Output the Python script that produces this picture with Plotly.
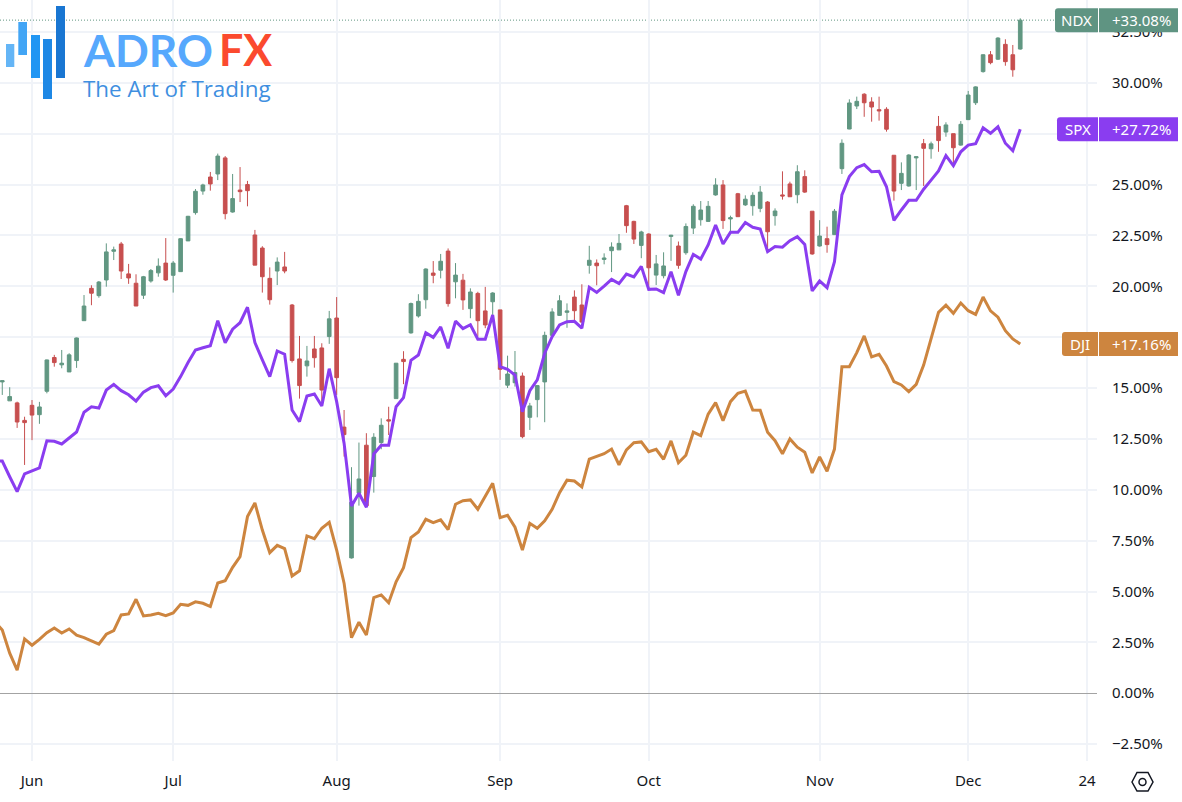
"""NDX / SPX / DJI percent-change comparison chart with the AdroFX logo."""
import plotly.graph_objects as go

# ── Data ──────────────────────────────────────────────────────────────────────
# trading-day index, 0 is the first June session
bars = list(range(-5, 134))

ndx_open = [
    15.10, 15.30, 14.37, 14.27, 13.41, 14.15, 13.69, 14.84, 16.50, 16.14,
    15.79, 16.35, 18.31, 19.90, 19.54, 20.31, 21.72, 22.08, 20.61, 20.15,
    19.56, 20.26, 20.66, 21.14, 20.54, 20.72, 22.23, 23.62, 24.68, 25.37,
    25.52, 26.31, 23.65, 24.73, 25.00, 22.52, 21.88, 20.39, 20.75, 20.95,
    19.08, 16.43, 16.09, 16.92, 16.97, 17.53, 18.44, 13.08, 6.65, 9.83,
    12.19, 10.65, 12.32, 13.44, 14.48, 16.41, 17.71, 18.54, 19.34, 20.65,
    20.79, 21.73, 20.22, 20.30, 18.90, 19.65, 18.79, 19.24, 18.84, 15.14,
    15.26, 15.59, 13.56, 14.43, 15.30, 17.59, 18.57, 18.72, 19.47, 19.08,
    21.03, 21.14, 21.32, 21.75, 21.79, 23.96, 23.19, 22.01, 22.57, 20.55,
    20.52, 22.45, 21.98, 21.65, 22.86, 23.27, 23.19, 24.49, 24.98, 23.31,
    24.55, 24.00, 23.96, 23.83, 24.14, 23.47, 24.49, 25.03, 24.50, 25.39,
    23.69, 21.98, 22.34, 22.54, 25.78, 27.73, 28.86, 29.44, 29.06, 28.68,
    28.70, 26.44, 25.06, 24.93, 26.31, 27.01, 26.76, 27.86, 27.58, 27.50,
    26.94, 28.19, 29.02, 30.55, 31.38, 31.16, 31.89, 31.38, 31.66,
]
ndx_high = [
    15.60, 15.37, 15.04, 14.33, 13.59, 14.41, 14.32, 16.40, 16.63, 16.87,
    16.71, 17.48, 19.57, 20.05, 20.26, 22.11, 21.95, 22.18, 21.10, 20.59,
    20.51, 20.85, 21.37, 22.37, 21.24, 22.36, 23.46, 24.78, 25.04, 25.62,
    26.52, 26.40, 25.52, 25.86, 25.18, 22.77, 21.97, 20.93, 21.42, 21.69,
    19.13, 17.56, 17.07, 17.56, 17.20, 18.79, 19.47, 13.92, 11.11, 12.32,
    12.78, 12.78, 13.51, 14.08, 16.22, 16.81, 19.20, 19.61, 20.88, 21.24,
    21.59, 21.86, 21.14, 20.61, 19.90, 19.73, 19.97, 19.71, 18.84, 16.59,
    16.82, 15.76, 14.27, 15.15, 17.77, 18.92, 19.56, 19.16, 19.80, 20.10,
    21.99, 21.32, 21.62, 22.16, 22.57, 24.00, 23.22, 22.73, 22.60, 21.54,
    21.67, 22.53, 22.20, 23.09, 24.03, 24.19, 24.19, 25.31, 25.22, 23.47,
    24.59, 24.47, 24.62, 24.93, 24.19, 23.83, 25.65, 25.14, 25.95, 25.70,
    23.69, 23.25, 22.93, 23.80, 27.22, 29.19, 29.32, 29.49, 29.29, 29.32,
    28.80, 26.45, 26.09, 26.49, 26.37, 27.24, 27.11, 28.37, 28.06, 27.50,
    28.12, 29.60, 29.83, 31.40, 31.56, 32.24, 32.14, 31.86, 33.17,
]
ndx_low = [
    14.90, 14.66, 14.37, 13.04, 11.22, 12.44, 13.24, 14.74, 16.05, 15.97,
    15.79, 15.99, 18.31, 19.07, 19.44, 19.98, 21.29, 20.36, 20.12, 19.03,
    19.38, 20.18, 20.47, 20.26, 19.69, 20.72, 22.23, 23.52, 24.50, 24.70,
    25.22, 23.29, 23.62, 24.14, 23.93, 21.04, 19.69, 19.10, 20.06, 20.64,
    16.25, 14.48, 15.56, 16.00, 14.33, 17.17, 14.66, 11.63, 6.62, 9.22,
    9.16, 9.86, 11.99, 12.69, 14.48, 15.19, 17.67, 18.46, 18.90, 20.15,
    20.39, 19.00, 19.41, 18.84, 18.43, 17.53, 17.94, 18.59, 15.40, 15.00,
    15.07, 12.53, 12.94, 13.56, 13.32, 17.53, 18.54, 17.96, 18.26, 18.22,
    20.62, 20.05, 21.08, 20.70, 21.79, 22.63, 22.08, 21.38, 19.90, 20.06,
    20.39, 21.25, 20.86, 21.55, 22.57, 22.98, 23.16, 24.45, 22.82, 22.63,
    23.41, 23.95, 23.47, 23.64, 21.79, 22.98, 24.26, 24.40, 24.08, 24.59,
    21.55, 21.95, 21.65, 22.52, 25.52, 27.72, 28.71, 28.33, 28.09, 28.14,
    27.60, 24.21, 24.73, 24.90, 24.73, 24.93, 26.27, 26.61, 27.35, 26.00,
    26.91, 28.17, 28.91, 30.50, 30.91, 31.12, 30.84, 30.30, 31.63,
]
ndx_close = [
    15.30, 15.36, 14.58, 13.33, 13.30, 13.67, 14.07, 16.38, 16.25, 16.22,
    16.63, 17.46, 19.03, 19.66, 20.21, 21.69, 21.79, 20.75, 20.41, 19.03,
    20.47, 20.77, 20.99, 20.31, 21.14, 22.34, 23.44, 24.67, 24.98, 25.03,
    26.40, 23.57, 24.31, 24.65, 24.70, 21.04, 20.47, 19.34, 21.19, 20.75,
    16.35, 15.12, 16.33, 16.49, 14.90, 18.40, 15.51, 12.71, 9.39, 10.53,
    9.21, 12.58, 13.17, 13.38, 16.22, 16.30, 19.15, 19.26, 20.85, 20.54,
    21.23, 19.15, 20.55, 19.33, 19.72, 18.31, 18.10, 19.67, 15.92, 15.69,
    15.76, 12.61, 14.12, 15.12, 17.59, 18.74, 19.29, 18.79, 18.80, 18.24,
    21.28, 21.01, 21.39, 21.93, 22.11, 22.98, 22.32, 22.67, 20.91, 21.10,
    21.00, 22.51, 21.03, 22.94, 23.93, 23.75, 23.93, 24.98, 23.23, 23.37,
    23.42, 24.28, 24.47, 24.63, 22.68, 23.70, 24.44, 24.40, 25.63, 24.63,
    21.59, 22.47, 22.05, 23.69, 27.03, 29.01, 29.09, 29.02, 28.81, 28.62,
    27.72, 24.68, 25.55, 26.45, 26.37, 26.78, 27.00, 27.16, 27.93, 26.81,
    27.96, 29.40, 29.80, 31.38, 30.99, 32.20, 31.04, 30.64, 33.08,
]
spx_pct = [
    11.41, 11.41, 10.64, 9.91, 10.78, 10.92, 11.07, 12.41, 12.38, 12.25,
    12.56, 12.84, 13.81, 14.08, 14.02, 14.90, 15.18, 14.87, 14.67, 14.36,
    14.80, 15.02, 15.11, 14.62, 14.95, 15.56, 16.25, 16.87, 16.98, 17.08,
    18.31, 17.23, 17.89, 18.21, 18.97, 17.23, 16.38, 15.56, 16.82, 16.66,
    13.92, 13.35, 14.61, 14.71, 14.12, 15.95, 14.33, 12.29, 9.20, 9.83,
    9.14, 11.76, 12.19, 12.19, 14.08, 14.53, 16.36, 16.62, 17.72, 17.49,
    18.00, 16.95, 18.29, 17.92, 18.11, 17.40, 17.40, 18.59, 16.05, 15.92,
    15.64, 13.84, 14.87, 15.40, 16.71, 17.52, 18.10, 18.26, 18.28, 17.94,
    19.95, 19.70, 20.01, 20.34, 20.13, 20.60, 20.46, 20.98, 19.85, 19.87,
    19.69, 20.72, 19.56, 20.72, 21.57, 21.34, 22.03, 23.01, 22.08, 22.65,
    22.65, 23.13, 22.90, 22.82, 21.70, 21.95, 21.92, 22.24, 22.44, 22.06,
    19.77, 20.26, 19.93, 21.21, 24.49, 25.39, 25.83, 25.98, 25.63, 25.65,
    24.89, 23.24, 23.75, 24.23, 24.23, 24.77, 25.22, 25.67, 26.42, 25.93,
    26.61, 26.94, 27.01, 27.79, 27.52, 27.84, 27.03, 26.66, 27.72,
]
dji_pct = [
    3.50, 3.11, 1.97, 1.14, 2.67, 2.36, 2.65, 2.98, 3.21, 2.96,
    3.16, 2.85, 2.73, 2.57, 2.41, 2.90, 3.08, 3.85, 3.90, 4.62,
    3.80, 3.85, 3.93, 3.81, 3.95, 4.37, 4.32, 4.49, 4.42, 4.26,
    5.42, 5.53, 6.19, 6.71, 8.68, 9.35, 8.02, 6.91, 7.27, 7.11,
    5.76, 6.02, 7.73, 7.60, 8.11, 8.40, 7.04, 5.41, 2.73, 3.49,
    2.86, 4.70, 4.83, 4.45, 5.48, 6.17, 7.65, 7.93, 8.55, 8.38,
    8.52, 8.04, 9.29, 9.46, 9.50, 9.04, 9.66, 10.32, 8.63, 8.75,
    8.16, 7.04, 8.35, 8.11, 8.47, 9.04, 9.86, 10.47, 10.43, 10.14,
    11.51, 11.63, 11.77, 12.00, 11.23, 11.96, 12.31, 12.35, 11.87, 11.99,
    11.50, 12.40, 11.33, 11.70, 12.83, 12.66, 13.72, 14.28, 13.40, 14.33,
    14.74, 14.85, 13.92, 13.91, 12.83, 12.41, 11.77, 12.50, 12.09, 11.84,
    10.83, 11.61, 10.91, 12.00, 16.05, 16.05, 16.74, 17.56, 16.53, 16.66,
    16.08, 15.31, 15.15, 14.82, 15.18, 16.13, 17.44, 18.72, 19.07, 18.67,
    19.18, 18.80, 18.62, 19.47, 18.79, 18.48, 17.82, 17.41, 17.16,
]

x_tick_vals = [0, 19, 41, 63, 83, 106, 126, 142]
x_tick_text = ["Jun", "Jul", "Aug", "Sep", "Oct", "Nov", "Dec", "24"]
y_tick_vals = [-2.5, 0, 2.5, 5, 7.5, 10, 12.5, 15, 17.5, 20, 22.5, 25, 27.5, 30, 32.5]
# 17.50% and 27.50% sit fully behind the DJI and SPX tags, so they stay blank
y_tick_text = [
    "−2.50%", "0.00%", "2.50%", "5.00%", "7.50%", "10.00%", "12.50%", "15.00%",
    "", "20.00%", "22.50%", "25.00%", "", "30.00%", "32.50%",
]

# last value tags: name, value text, value, colour, width of the name box
tag_names = ["NDX", "SPX", "DJI"]
tag_texts = ["+33.08%", "+27.72%", "+17.16%"]
tag_values = [ndx_close[-1], spx_pct[-1], dji_pct[-1]]
tag_colors = ["#5f9482", "#8a3df0", "#cd853f"]
tag_widths = [42, 40, 35]

GREEN = "#619782"
RED = "#c74f4f"
GRID = "#f0f3f8"
TEXT = "#131722"
FONT = "Noto Sans"

# ── Page geometry ─────────────────────────────────────────────────────────────
W, H = 1182, 802
PLOT_R = 1097   # right edge of the pane
PLOT_B = 761    # bottom edge of the pane


def px(x):
    return x / PLOT_R


def py(y):
    return (PLOT_B - y) / PLOT_B


def box_path(left, right, half, radius_left):
    r = radius_left
    return (
        f"M {left + r} {-half} L {right} {-half} L {right} {half} L {left + r} {half} "
        f"Q {left} {half} {left} {half - r} L {left} {-half + r} "
        f"Q {left} {-half} {left + r} {-half} Z"
    )


shapes = []
annotations = []

# dotted price line for the candles
shapes.append(dict(
    type="line", xref="paper", yref="y", x0=0, x1=1, y0=ndx_close[-1], y1=ndx_close[-1],
    line=dict(color=GREEN, width=1, dash="1px,2px"), layer="below",
))

# ── Last value tags ───────────────────────────────────────────────────────────
for name, txt, val, col, width in zip(tag_names, tag_texts, tag_values, tag_colors, tag_widths):
    shapes.append(dict(
        type="path", xref="paper", yref="y", xsizemode="pixel", ysizemode="pixel",
        xanchor=1, yanchor=val, path=box_path(-width, 1, 12, 3),
        fillcolor=col, line=dict(width=0), layer="above",
    ))
    shapes.append(dict(
        type="path", xref="paper", yref="y", xsizemode="pixel", ysizemode="pixel",
        xanchor=1, yanchor=val, path=box_path(2, 81, 12, 0),
        fillcolor=col, line=dict(width=0), layer="above",
    ))
    annotations.append(dict(
        text=name, xref="paper", yref="y", x=px(PLOT_R - width / 2 + 0.5), y=val,
        xanchor="center", yanchor="middle", showarrow=False, borderpad=0,
        font=dict(family=FONT, size=15, color="white"),
    ))
    annotations.append(dict(
        text=txt, xref="paper", yref="y", x=px(1141.5), y=val,
        xanchor="center", yanchor="middle", showarrow=False, borderpad=0,
        font=dict(family=FONT, size=15, color="white"),
    ))

# ── Logo ──────────────────────────────────────────────────────────────────────
logo_bars = [
    (6, 14.3, 44, 67, "#64b5f6"),
    (18.3, 27, 22, 55, "#42a5f5"),
    (31, 40, 35, 78, "#2196f3"),
    (43, 52, 39, 99, "#1e88e5"),
    (56, 65, 6, 78, "#1976d2"),
]
for x0, x1, y0, y1, col in logo_bars:
    shapes.append(dict(
        type="rect", xref="paper", yref="paper", x0=px(x0), x1=px(x1), y0=py(y0), y1=py(y1),
        fillcolor=col, line=dict(width=0), layer="above",
    ))
annotations.append(dict(
    text="<b>ADRO</b>", xref="paper", yref="paper", x=px(81.5), y=py(49), xanchor="left",
    yanchor="middle", showarrow=False, borderpad=0,
    font=dict(family="Lato", size=44.5, color="#56a8fd"),
))
annotations.append(dict(
    text="<b>FX</b>", xref="paper", yref="paper", x=px(217.5), y=py(49), xanchor="left",
    yanchor="middle", showarrow=False, borderpad=0,
    font=dict(family="Lato", size=43, color="#fb4a2e"),
))
annotations.append(dict(
    text="The Art of Trading", xref="paper", yref="paper", x=px(82), y=py(88.5), xanchor="left",
    yanchor="middle", showarrow=False, borderpad=0,
    font=dict(family="Open Sans", size=22.4, color="#3f8fe0"),
))

# ── Settings icon in the corner ───────────────────────────────────────────────
hex_pts = [(1132, 782), (1137, 772.5), (1148, 772.5), (1153, 782), (1148, 791), (1137, 791)]
hex_path = "M " + " L ".join(f"{px(x)} {py(y)}" for x, y in hex_pts) + " Z"
shapes.append(dict(
    type="path", xref="paper", yref="paper", path=hex_path,
    line=dict(color=TEXT, width=1.5), layer="above",
))
shapes.append(dict(
    type="circle", xref="paper", yref="paper", x0=px(1139), x1=px(1146), y0=py(785.5), y1=py(778.5),
    line=dict(color=TEXT, width=1.5), layer="above",
))

# ── Figure ────────────────────────────────────────────────────────────────────
fig = go.Figure()

fig.add_trace(go.Scatter(
    x=bars, y=dji_pct, mode="lines", name="DJI",
    line=dict(color="#cd853f", width=3), showlegend=False,
))
fig.add_trace(go.Scatter(
    x=bars, y=spx_pct, mode="lines", name="SPX",
    line=dict(color="#8a3df0", width=3), showlegend=False,
))
fig.add_trace(go.Candlestick(
    x=bars, open=ndx_open, high=ndx_high, low=ndx_low, close=ndx_close, name="NDX",
    whiskerwidth=0, showlegend=False,
    increasing=dict(line=dict(color=GREEN, width=1), fillcolor=GREEN),
    decreasing=dict(line=dict(color=RED, width=1), fillcolor=RED),
))

fig.update_layout(
    width=W,
    height=H,
    margin=dict(l=0, r=W - PLOT_R, t=0, b=H - PLOT_B),
    paper_bgcolor="white",
    plot_bgcolor="white",
    boxgap=0.3,
    xaxis=dict(
        type="linear",
        range=[-4.307, 143.33],
        tickmode="array",
        tickvals=x_tick_vals,
        ticktext=x_tick_text,
        showgrid=True,
        gridcolor=GRID,
        gridwidth=1.5,
        zeroline=False,
        showline=False,
        ticks="outside",
        ticklen=6,
        tickcolor="rgba(0,0,0,0)",
        rangeslider=dict(visible=False),
        tickfont=dict(family=FONT, size=15, color=TEXT),
    ),
    yaxis=dict(
        side="right",
        range=[-3.33, 34.07],
        tickmode="array",
        tickvals=y_tick_vals,
        ticktext=y_tick_text,
        showgrid=True,
        gridcolor=GRID,
        gridwidth=1.5,
        zeroline=True,
        zerolinecolor="#a3a3a3",
        zerolinewidth=1,
        showline=False,
        ticks="outside",
        ticklen=11,
        tickcolor="rgba(0,0,0,0)",
        tickfont=dict(family=FONT, size=15, color=TEXT),
    ),
    shapes=shapes,
    annotations=annotations,
)

fig.write_html(
    "out.html",
    config={"displayModeBar": False},
    post_script="document.body.style.margin='0';document.body.style.overflow='hidden';",
)
